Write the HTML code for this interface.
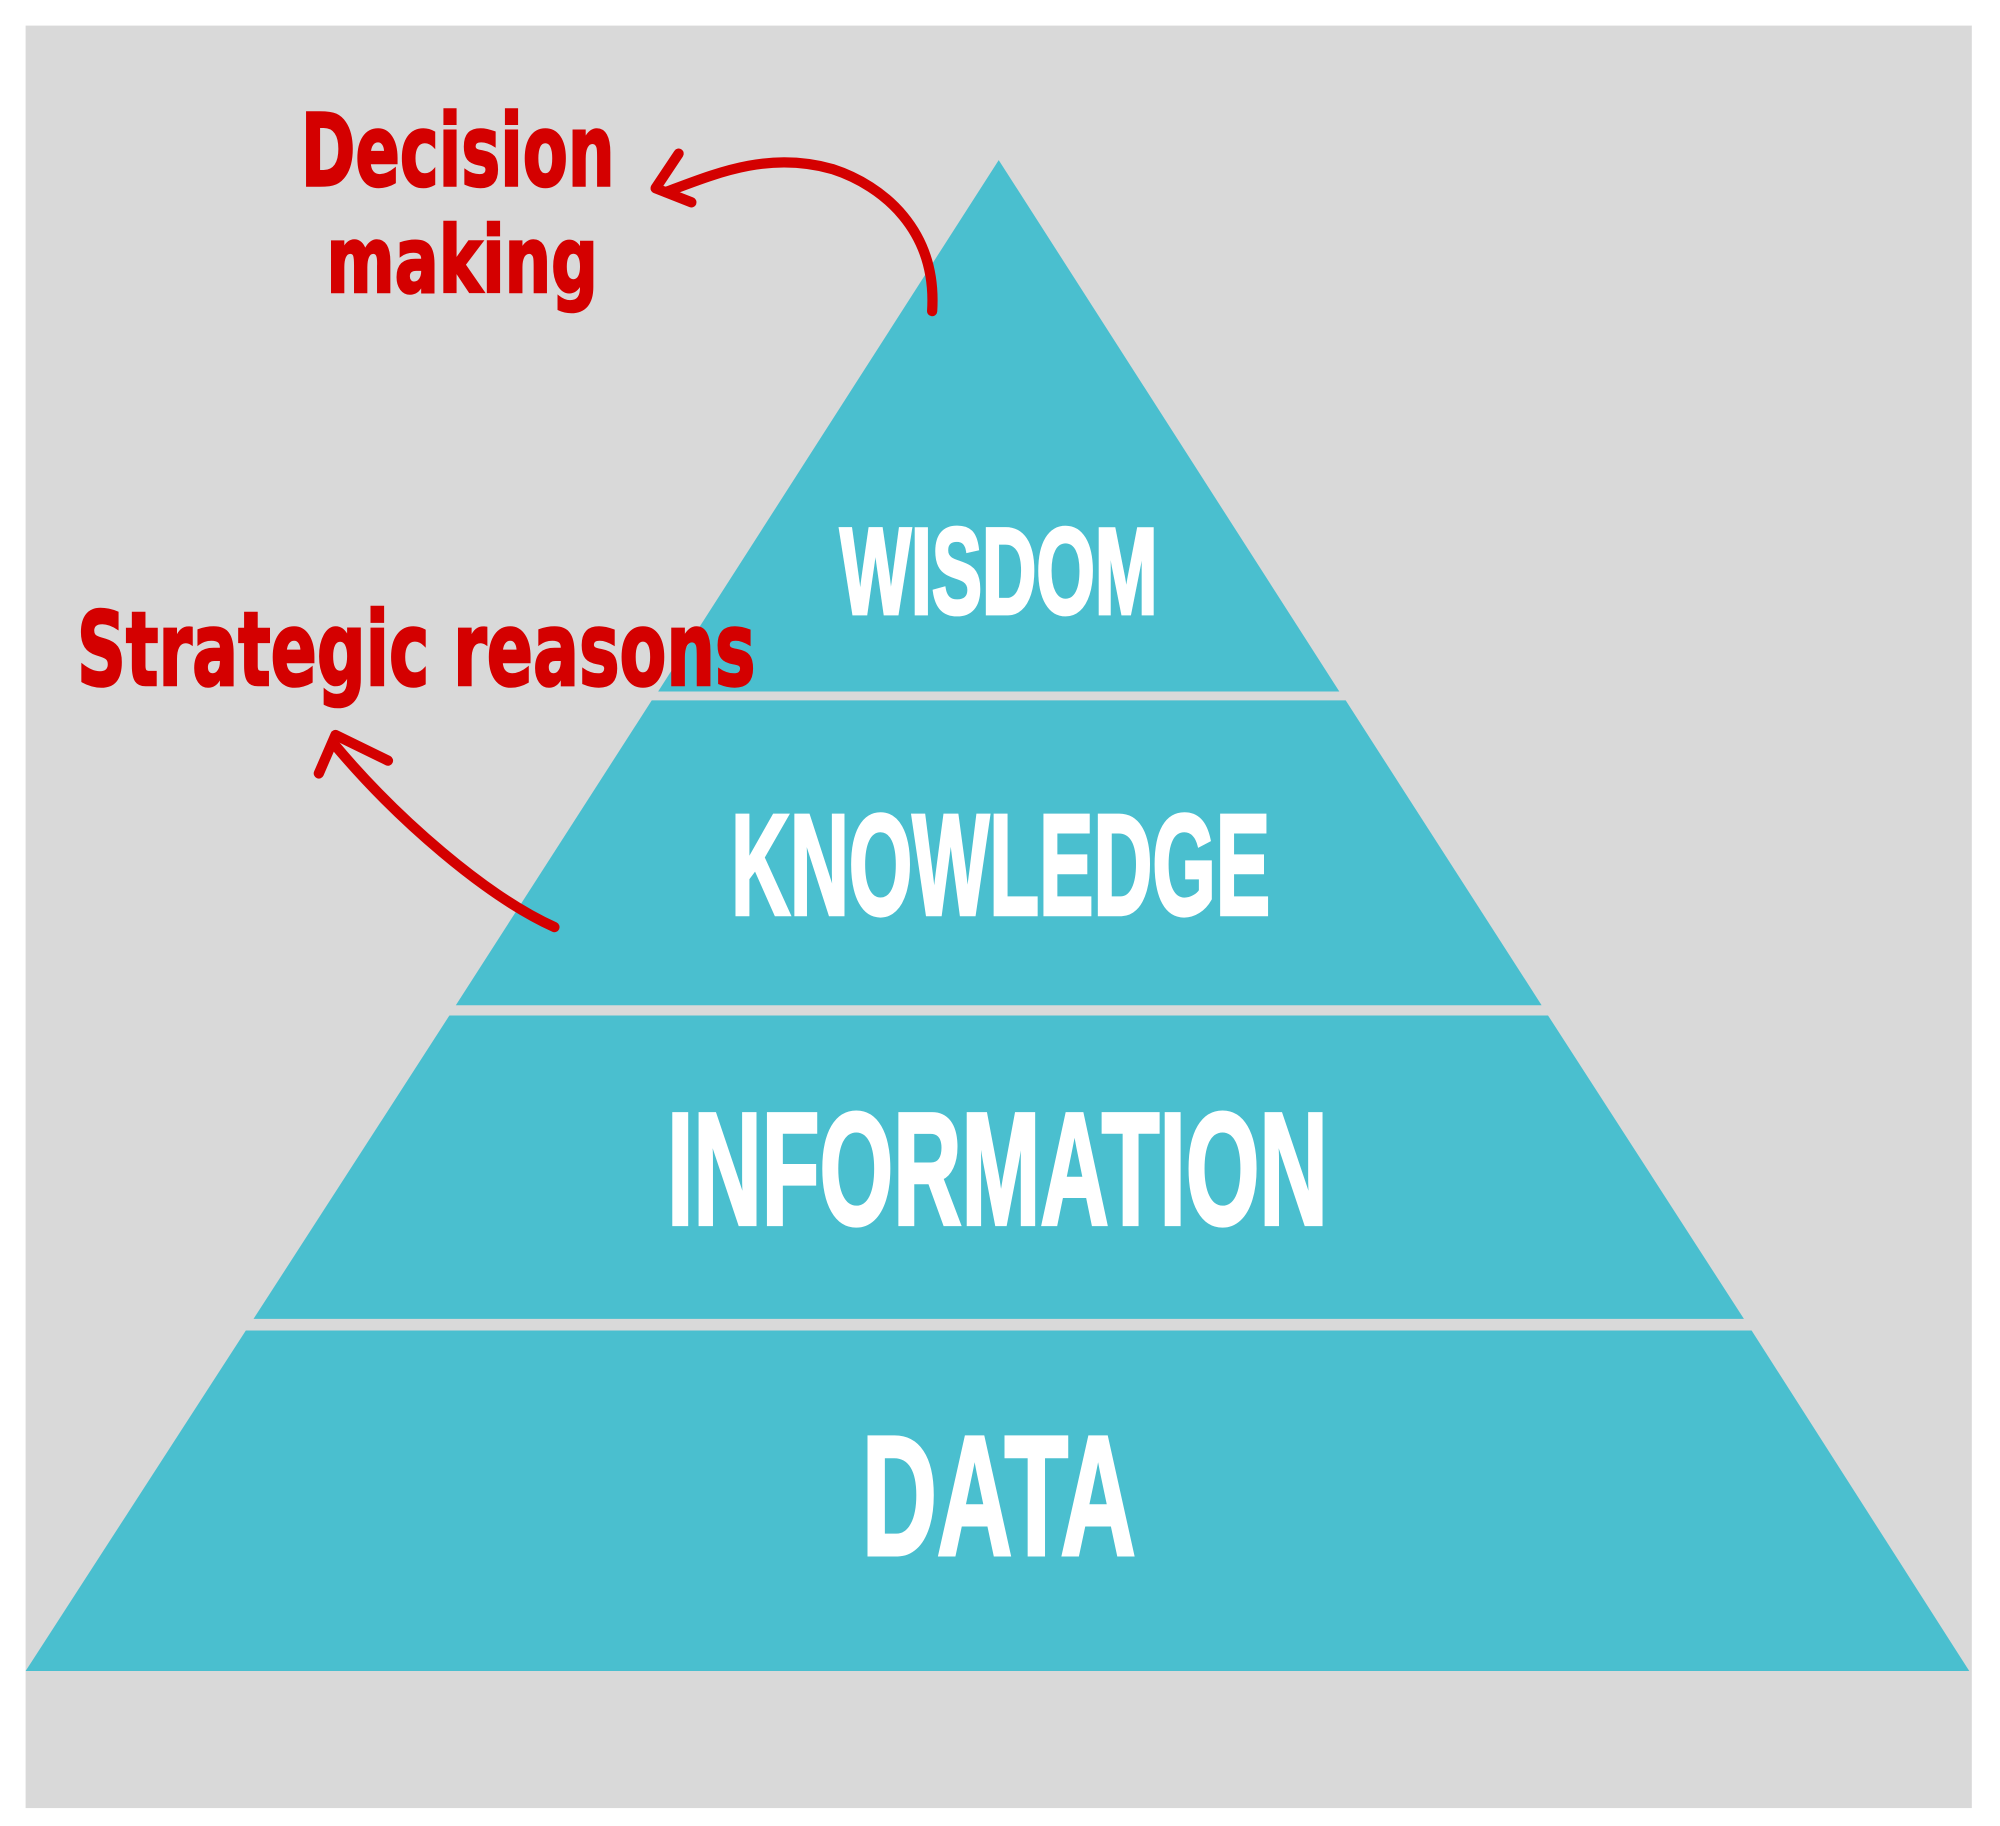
<!DOCTYPE html>
<html><head><style>html,body{margin:0;padding:0;background:#fff}svg{display:block}</style></head>
<body>
<svg width="2000" height="1826" viewBox="0 0 1562 1426" preserveAspectRatio="none" xmlns="http://www.w3.org/2000/svg">
<rect x="0" y="0" width="1562" height="1426" fill="#fff"/>
<rect x="20" y="20" width="1520" height="1392" fill="#d9d9d9"/>
<g fill="#4abfcf">
<polygon points="780,125 1046,540 514,540"/>
<polygon points="509,547 1051,547 1204,785 356,785"/>
<polygon points="351,793 1209,793 1362,1030 198,1030"/>
<polygon points="192,1039 1368,1039 1538,1305 20,1305"/>
</g>
<g fill="#fff" stroke="#fff" stroke-width="3" font-family="Liberation Sans, sans-serif" font-weight="bold" text-anchor="start">
<text x="656" y="479" font-size="96" textLength="248" lengthAdjust="spacingAndGlyphs">WISDOM</text>
<text x="571" y="714" font-size="112" textLength="421" lengthAdjust="spacingAndGlyphs">KNOWLEDGE</text>
<text x="521" y="956" font-size="125" textLength="516" lengthAdjust="spacingAndGlyphs">INFORMATION</text>
<text x="673" y="1214" font-size="133" textLength="214" lengthAdjust="spacingAndGlyphs">DATA</text>
</g>
<g fill="#d40000" stroke="#d40000" stroke-width="2" font-family="DejaVu Sans, sans-serif" font-weight="bold">
<text x="235" y="145" font-size="78" textLength="245" lengthAdjust="spacingAndGlyphs">Decision</text>
<text x="255" y="228" font-size="72" textLength="212" lengthAdjust="spacingAndGlyphs">making</text>
<text x="60" y="535" font-size="80" textLength="530" lengthAdjust="spacingAndGlyphs">Strategic reasons</text>
</g>
<g fill="none" stroke="#d40000" stroke-width="8" stroke-linecap="round" stroke-linejoin="round">
<path d="M728,243 C732,180 690,145 650,132 C600,118 560,135 520,150"/>
<path d="M530,120 L512,147 L540,158"/>
<path d="M433,724 C380,700 310,640 260,580"/>
<path d="M249,604 L262,574 L303,594"/>
</g>
</svg>
</body></html>
